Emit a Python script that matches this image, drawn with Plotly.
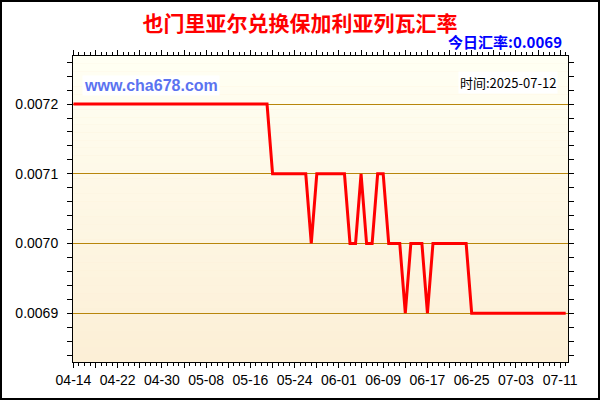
import pandas as pd
import plotly.graph_objects as go

# 也门里亚尔 -> 保加利亚列瓦, daily rate 2025-04-14 .. 2025-07-12
start_date = "2025-04-14"
rates = [
    0.0072, 0.0072, 0.0072, 0.0072, 0.0072, 0.0072, 0.0072, 0.0072, 0.0072, 0.0072,
    0.0072, 0.0072, 0.0072, 0.0072, 0.0072, 0.0072, 0.0072, 0.0072, 0.0072, 0.0072,
    0.0072, 0.0072, 0.0072, 0.0072, 0.0072, 0.0072, 0.0072, 0.0072, 0.0072, 0.0072,
    0.0072, 0.0072, 0.0072, 0.0072, 0.0072, 0.0072, 0.0071, 0.0071, 0.0071, 0.0071,
    0.0071, 0.0071, 0.0071, 0.0070, 0.0071, 0.0071, 0.0071, 0.0071, 0.0071, 0.0071,
    0.0070, 0.0070, 0.0071, 0.0070, 0.0070, 0.0071, 0.0071, 0.0070, 0.0070, 0.0070,
    0.0069, 0.0070, 0.0070, 0.0070, 0.0069, 0.0070, 0.0070, 0.0070, 0.0070, 0.0070,
    0.0070, 0.0070, 0.0069, 0.0069, 0.0069, 0.0069, 0.0069, 0.0069, 0.0069, 0.0069,
    0.0069, 0.0069, 0.0069, 0.0069, 0.0069, 0.0069, 0.0069, 0.0069, 0.0069, 0.0069,
]
dates = pd.date_range(start_date, periods=len(rates), freq="D")

title_text = "也门里亚尔兑换保加利亚列瓦汇率"
today_text = "今日汇率:0.0069"
site_text = "www.cha678.com"
time_text = "时间:2025-07-12"

# every 4th day gets a tick, every 8th day a label
tick_dates = dates[::4]
tick_labels = [d.strftime("%m-%d") if i % 2 == 0 else "" for i, d in enumerate(tick_dates)]

# plot area in pixels (600x400 page)
L, R, T, B = 73, 32, 56, 38
PW, PH = 600 - L - R, 400 - T - B


def px_x(x):
    return (x - L) / PW


def px_y(y):
    return (400 - B - y) / PH


fig = go.Figure()
fig.add_trace(
    go.Scatter(
        x=dates,
        y=rates,
        mode="lines",
        line=dict(color="#FF0000", width=3),
        hoverinfo="x+y",
    )
)

# soft vertical gradient behind the plot
shapes = []
n_bands = 40
top_rgb, bot_rgb = (255, 255, 243), (252, 239, 214)
for i in range(n_bands):
    t = i / (n_bands - 1)
    c = tuple(round(top_rgb[k] + (bot_rgb[k] - top_rgb[k]) * t) for k in range(3))
    shapes.append(
        dict(
            type="rect", xref="paper", yref="paper", layer="below",
            x0=0, x1=1, y0=1 - (i + 1) / n_bands, y1=1 - i / n_bands,
            line=dict(width=0), fillcolor="rgb(%d,%d,%d)" % c,
        )
    )
# outer frame of the whole image
shapes.append(
    dict(
        type="rect", xref="paper", yref="paper", layer="above",
        x0=px_x(1), x1=px_x(599), y0=px_y(399), y1=px_y(1),
        line=dict(color="black", width=2), fillcolor="rgba(0,0,0,0)",
    )
)

fig.update_layout(
    width=600,
    height=400,
    margin=dict(l=L, r=R, t=T, b=B, pad=0),
    paper_bgcolor="white",
    plot_bgcolor="rgb(252,239,214)",
    showlegend=False,
    shapes=shapes,
    font=dict(family="Liberation Sans, Arial", size=14, color="#000000"),
    title=dict(
        text="<b>%s</b>" % title_text,
        x=px_x(300), xref="paper", xanchor="center",
        y=1 - 24 / 400, yref="container", yanchor="middle",
        font=dict(family="Noto Sans CJK SC", size=21, color="#FF0000"),
    ),
)

fig.update_xaxes(
    type="date",
    range=["2025-04-13 22:00", "2025-07-12 10:00"],
    tickmode="array",
    tickvals=tick_dates,
    ticktext=tick_labels,
    ticks="outside",
    ticklen=5,
    tickcolor="black",
    showgrid=False,
    showline=True,
    linecolor="black",
    linewidth=1,
    mirror="allticks",
    zeroline=False,
    minor=dict(
        tickmode="linear", tick0=start_date, dtick=86400000,
        ticks="outside", ticklen=3, tickcolor="black", showgrid=False,
    ),
)
fig.update_yaxes(
    range=[0.00683, 0.007269],
    tickmode="linear",
    tick0=0.0069,
    dtick=0.0001,
    tickformat=".4f",
    ticks="outside",
    ticklen=5,
    tickcolor="black",
    ticklabelstandoff=6,
    showgrid=True,
    gridcolor="#B8860B",
    gridwidth=1,
    showline=True,
    linecolor="black",
    linewidth=1,
    mirror="allticks",
    zeroline=False,
    minor=dict(
        tickmode="linear", tick0=0.0069, dtick=0.00002,
        ticks="outside", ticklen=5, tickcolor="black", showgrid=False,
    ),
)

fig.add_annotation(
    text="<b>%s</b>" % today_text,
    xref="paper", yref="paper", x=px_x(564), y=px_y(42),
    xanchor="right", yanchor="middle", showarrow=False,
    font=dict(family="Noto Sans CJK SC", size=15, color="#0000FF"),
)
fig.add_annotation(
    text="<b>%s</b>" % site_text,
    xref="paper", yref="paper", x=px_x(82), y=px_y(85),
    xanchor="left", yanchor="middle", showarrow=False,
    bgcolor="white", borderpad=1,
    font=dict(family="Liberation Sans, Arial", size=16, color="#5B73F0"),
)
fig.add_annotation(
    text=time_text,
    xref="paper", yref="paper", x=px_x(558), y=px_y(82),
    xanchor="right", yanchor="middle", showarrow=False,
    bgcolor="white", borderpad=1,
    font=dict(family="Noto Sans CJK SC", size=13, color="#000000"),
)

# page body has a default 8px margin; drop it so the chart sits at 0,0
fig.write_html(
    "out.html",
    config={"displayModeBar": False},
    post_script="document.body.style.margin='0';",
)
